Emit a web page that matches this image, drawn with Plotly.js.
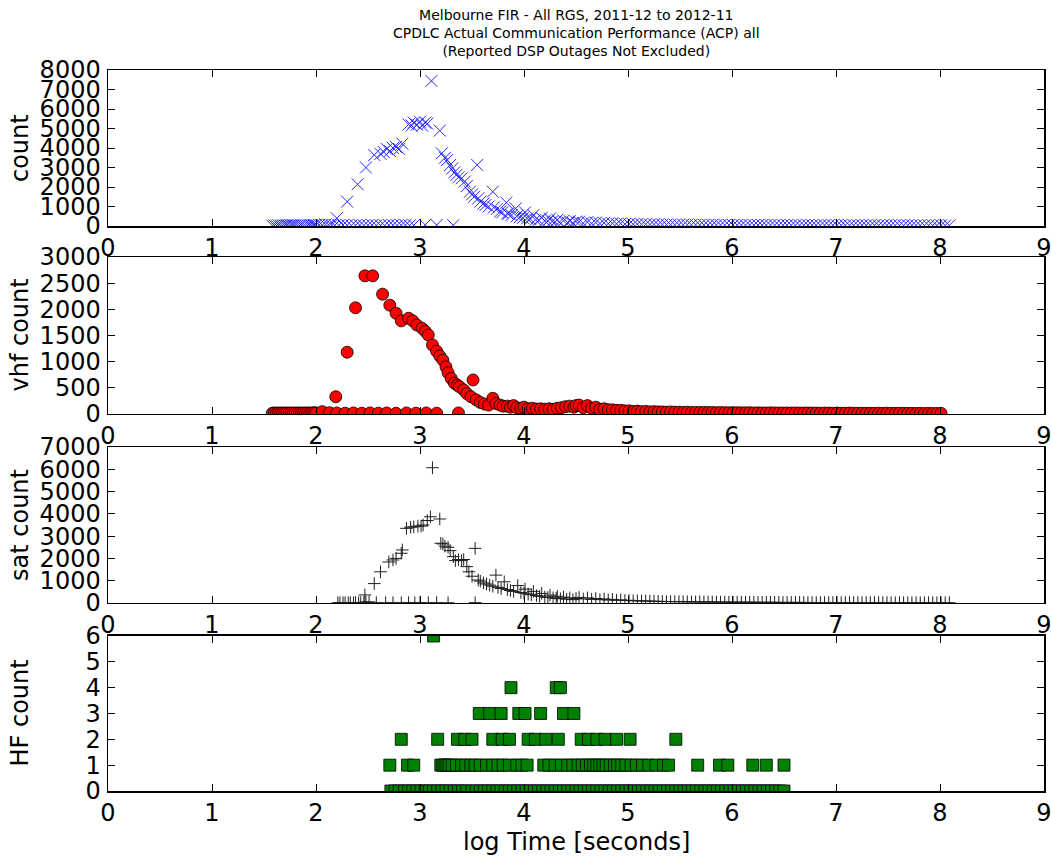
<!DOCTYPE html>
<html>
<head>
<meta charset="utf-8">
<script src="https://cdn.plot.ly/plotly-3.0.1.min.js"></script>
<style>html,body{margin:0;padding:0;background:#fff;}#chart{width:1051px;height:856px;}</style>
</head>
<body>
<div id="chart"></div>
<script>
// ---------- DATA (x = log time [s], y = count) ----------
// Panel 1: all
const allPeakLogT = [2.20,2.30,2.40,2.48,2.56,2.62,2.65,2.68,2.71,2.74,2.77,2.80,2.83,2.89,2.92,2.94,2.97,3.00,3.02,3.05,3.07,3.11,3.19,3.21,3.24,3.26,3.29,3.31,3.33,3.35,3.37,3.40,3.43,3.45,3.48,3.50,3.52,3.55,3.56,3.58,3.61,3.63,3.66,3.70,3.71,3.74,3.77,3.79,3.83,3.84,3.85,3.88,3.92,3.93,3.96,3.99,4.01,4.03,4.06,4.09,4.11,4.14,4.17,4.20,4.23,4.25,4.27,4.30,4.32,4.34,4.38,4.42,4.44,4.47,4.50];
const allPeakCount = [400,1250,2140,3000,3640,3700,3800,3950,3850,4000,4050,3950,4220,5210,5150,5300,5200,5350,5150,5300,5250,7440,4890,3730,3500,3380,3130,2950,2750,2620,2500,2450,2280,2050,1760,1620,1500,3130,1420,1250,1150,1080,1000,1760,950,880,740,700,1200,650,620,560,900,500,460,420,700,390,360,560,320,300,420,270,250,380,230,210,320,200,270,180,250,160,230];
const allLowLogT = [1.58,1.60,1.62,1.64,1.66,1.68,1.70,1.72,1.74,1.76,1.78,1.80,1.82,1.84,1.86,1.88,1.90,1.92,1.94,1.96,1.98,2.00,2.03,2.06,2.09,2.12,2.15,2.18,2.22,2.26,2.30,2.34,2.38,2.42,2.46,2.50,2.54,2.58,2.62,2.66,2.70,2.74,2.78,2.82,2.86,2.90,2.94,3.05,3.16,3.32];
const allLowCount = [20,30,20,40,30,20,30,40,20,30,40,30,20,30,40,30,20,30,40,30,50,40,60,50,80,60,50,40,30,50,40,30,40,50,30,40,50,30,40,30,50,40,30,40,50,30,40,60,50,40];

// Shared dense tail positions (log time)
const tailLogT = [4.53,4.57,4.61,4.65,4.69,4.73,4.77,4.81,4.85,4.89,4.93,4.97,5.01,5.05,5.09,5.13,5.17,5.21,5.25,5.29,5.33,5.37,5.41,5.45,5.49,5.53,5.57,5.61,5.65,5.69,5.73,5.77,5.81,5.85,5.89,5.93,5.97,6.01,6.05,6.09,6.13,6.17,6.21,6.25,6.29,6.33,6.37,6.41,6.45,6.49,6.53,6.57,6.61,6.65,6.69,6.73,6.77,6.81,6.85,6.89,6.93,6.97,7.01,7.05,7.09,7.13,7.17,7.21,7.25,7.29,7.33,7.37,7.41,7.45,7.49,7.53,7.57,7.61,7.65,7.69,7.73,7.77,7.81,7.85,7.89,7.93,7.97,8.01,8.05,8.09];
const allTailCount = [220,150,200,140,180,130,160,120,140,110,130,100,110,90,100,85,90,80,85,75,80,70,75,70,70,65,70,60,65,60,60,55,60,55,55,50,55,50,50,50,45,50,45,50,45,45,50,45,45,40,45,40,45,40,40,45,40,40,40,45,40,40,35,40,40,35,40,35,40,35,35,40,35,35,35,40,35,35,30,35,35,30,35,30,35,30,30,35,30,30];

// Panel 2: vhf
const vhfPeakLogT = [2.19,2.30,2.38,2.47,2.545,2.64,2.71,2.77,2.82,2.89,2.93,2.97,3.02,3.05,3.08,3.12,3.16,3.19,3.22,3.25,3.27,3.30,3.33,3.36,3.38,3.42,3.45,3.49,3.51,3.54,3.58,3.62,3.66,3.70,3.73,3.77,3.80,3.84,3.87,3.90,3.93,3.97,4.00,4.04,4.08,4.12,4.16,4.20,4.24,4.28,4.32,4.36,4.40,4.44,4.48,4.50];
const vhfPeakCount = [330,1180,2030,2640,2640,2290,2080,1925,1780,1830,1780,1700,1640,1580,1510,1320,1200,1110,1030,900,790,680,590,550,520,460,390,330,650,270,220,190,170,300,200,170,150,150,130,160,120,110,130,100,110,95,100,90,100,90,110,120,140,150,130,160];
const vhfLowLogT = [1.58,1.60,1.62,1.64,1.66,1.68,1.70,1.72,1.74,1.76,1.78,1.80,1.82,1.84,1.86,1.88,1.90,1.92,1.94,1.96,1.98,2.00,2.06,2.13,2.20,2.28,2.36,2.44,2.52,2.60,2.68,2.77,2.87,2.96,3.06,3.16,3.37];
const vhfLowCount = [15,20,15,20,15,20,15,20,15,20,15,20,15,20,15,20,15,20,15,20,25,20,45,25,20,15,20,15,20,15,20,15,20,15,20,15,20];
const vhfTailCount = [170,120,160,110,130,90,100,80,80,70,70,60,60,50,55,45,50,40,45,40,40,35,40,35,35,30,35,30,30,30,30,28,30,25,28,25,25,25,25,22,22,25,20,22,20,20,22,20,20,18,20,18,20,18,18,20,18,18,15,18,18,15,18,15,15,18,15,15,15,15,15,12,15,12,15,12,12,15,12,12,12,10,12,10,12,10,10,12];

// Panel 3: sat
const satPeakLogT = [2.47,2.56,2.62,2.70,2.74,2.77,2.82,2.83,2.87,2.91,2.94,2.98,3.01,3.03,3.07,3.10,3.12,3.19,3.20,3.22,3.24,3.27,3.29,3.32,3.34,3.37,3.40,3.42,3.45,3.47,3.50,3.53,3.56,3.58,3.61,3.64,3.67,3.70,3.73,3.75,3.78,3.81,3.84,3.87,3.90,3.94,3.97,4.00,4.01,4.04,4.07,4.09,4.12,4.15,4.17,4.20,4.23,4.25,4.28,4.31,4.32,4.35,4.38,4.41,4.44,4.47,4.50];
const satPeakCount = [360,870,1400,1840,1930,2000,2230,2380,3350,3400,3420,3450,3450,3500,3700,3870,6070,3770,2680,2650,2550,2500,2350,2080,1900,1950,1900,1950,1630,1400,1200,2450,1030,980,900,850,800,750,1250,700,650,950,600,560,520,780,470,440,620,400,370,520,330,300,430,270,250,350,230,210,300,190,260,170,230,150,200];
const satLowLogT = [2.21,2.23,2.26,2.28,2.31,2.33,2.36,2.38,2.41,2.43,2.46,2.48,2.51,2.58,2.67,2.74,2.82,2.89,2.95,3.00,3.08,3.16,3.27,3.53];
const satLowCount = [10,15,10,15,10,15,10,20,15,20,30,40,50,15,10,15,10,15,10,15,10,15,10,15];
const satTailCount = [250,180,230,160,200,150,180,130,160,120,140,110,120,100,100,90,90,80,80,70,70,60,65,60,60,55,55,50,50,50,45,45,45,40,40,40,40,35,35,35,35,35,30,30,30,30,30,30,25,25,25,25,25,25,25,20,20,20,20,20,20,20,20,20,20,20,20,18,18,18,18,18,18,18,18,15,15,15,15,15,15,15,15,15,15,12,12,12,12,12];

// Panel 4: HF (rows of equal count)
const hfRowCounts = [0,1,2,3,4,6];
const hfRow0LogT = [2.72,2.76,2.80,2.85,2.89,2.93,2.97,3.01,3.05,3.09,3.13,3.17,3.21,3.25,3.29,3.33,3.37,3.41,3.45,3.50,3.54,3.58,3.62,3.66,3.70,3.74,3.78,3.82,3.86,3.90,3.94,3.98,4.02,4.06,4.10,4.14,4.18,4.22,4.26,4.30,4.34,4.38,4.42,4.46,4.50,4.54,4.58,4.62,4.66,4.70,4.74,4.78,4.82,4.86,4.90,4.94,4.98,5.02,5.06,5.10,5.14,5.18,5.22,5.26,5.30,5.34,5.38,5.42,5.46,5.50,5.54,5.58,5.62,5.66,5.70,5.74,5.78,5.82,5.86,5.90,5.94,5.98,6.02,6.06,6.10,6.14,6.18,6.22,6.26,6.30,6.34,6.38,6.42,6.46,6.50];
const hfRow1LogT = [2.71,2.88,2.94,3.20,3.22,3.24,3.26,3.28,3.31,3.35,3.40,3.44,3.49,3.53,3.58,3.64,3.70,3.75,3.80,3.86,3.93,3.98,4.03,4.19,4.24,4.30,4.36,4.42,4.47,4.52,4.56,4.60,4.64,4.67,4.70,4.73,4.76,4.79,4.83,4.87,4.90,4.94,4.98,5.03,5.08,5.14,5.20,5.27,5.34,5.39,5.67,5.88,5.96,6.20,6.33,6.50];
const hfRow2LogT = [2.82,3.17,3.36,3.43,3.50,3.70,3.79,3.86,4.04,4.11,4.21,4.33,4.55,4.62,4.70,4.78,4.89,5.02,5.46];
const hfRow3LogT = [3.57,3.67,3.78,3.95,4.01,4.16,4.38,4.48];
const hfRow4LogT = [3.875,4.31,4.35];
const hfRow6LogT = [3.13];

const xTickVals = [0,1,2,3,4,5,6,7,8,9];
const titleLines = ['Melbourne FIR - All RGS, 2011-12 to 2012-11','CPDLC Actual Communication Performance (ACP) all','(Reported DSP Outages Not Excluded)'];
const panelLabels = ['count','vhf count','sat count','HF count'];
const xLabel = 'log Time [seconds]';

// ---------- BUILD ----------
const FONT = 'DejaVu Sans, Bitstream Vera Sans, sans-serif';
const allX = allLowLogT.concat(allPeakLogT, tailLogT.slice(0, allTailCount.length));
const allY = allLowCount.concat(allPeakCount, allTailCount);
const vhfX = vhfLowLogT.concat(vhfPeakLogT, tailLogT.slice(0, vhfTailCount.length));
const vhfY = vhfLowCount.concat(vhfPeakCount, vhfTailCount);
const satX = satLowLogT.concat(satPeakLogT, tailLogT.slice(0, satTailCount.length));
const satY = satLowCount.concat(satPeakCount, satTailCount);
const hfRows = [hfRow0LogT, hfRow1LogT, hfRow2LogT, hfRow3LogT, hfRow4LogT, hfRow6LogT];
let hfX = [], hfY = [];
hfRows.forEach((row, i) => { row.forEach(v => { hfX.push(v); hfY.push(hfRowCounts[i]); }); });

const traces = [
  {type:'scatter', mode:'markers', x:allX, y:allY, xaxis:'x', yaxis:'y', hoverinfo:'skip',
   marker:{symbol:'x-thin', size:12, color:'blue', line:{color:'rgb(40,40,255)', width:1}}},
  {type:'scatter', mode:'markers', x:vhfX, y:vhfY, xaxis:'x2', yaxis:'y2', hoverinfo:'skip',
   marker:{symbol:'circle', size:12, color:'#ff0000', line:{color:'black', width:0.8}}},
  {type:'scatter', mode:'markers', x:satX, y:satY, xaxis:'x3', yaxis:'y3', hoverinfo:'skip',
   marker:{symbol:'cross-thin', size:9, color:'black', line:{color:'rgb(30,30,30)', width:1}}},
  {type:'scatter', mode:'markers', x:hfX, y:hfY, xaxis:'x4', yaxis:'y4', hoverinfo:'skip',
   marker:{symbol:'square', size:12, color:'#008000', line:{color:'black', width:0.8}}}
];

const tickFont = {family:FONT, size:24, color:'black'};
function xAx(anchor){
  return {anchor:anchor, domain:[0,1], range:[-0.00001,9.00001], tickmode:'array', tickvals:xTickVals, ticktext:xTickVals.map(String),
    ticks:'inside', ticklen:7, tickwidth:1, tickcolor:'black', mirror:'ticks', showline:true, linecolor:'black', linewidth:1.5,
    showgrid:false, zeroline:false, tickfont:tickFont, fixedrange:true, ticklabeloverflow:'allow'};
}
function yAx(anchor, domain, max, dtick){
  return {anchor:anchor, domain:domain, range:[0,max], dtick:dtick, tick0:0,
    ticks:'inside', ticklen:7, tickwidth:1, tickcolor:'black', mirror:'ticks', showline:true, linecolor:'black', linewidth:1.5,
    showgrid:false, zeroline:false, tickfont:tickFont, fixedrange:true, ticklabelstandoff:1, ticklabeloverflow:'allow'};
}
const domains = [[0.7836,1],[0.5229,0.7406],[0.2608,0.4771],[0,0.2150]];
const plotW = 936;
const annotations = panelLabels.map((t,i)=>({
  text:t, xref:'paper', yref:'paper', x:(20-108)/plotW, y:(domains[i][0]+domains[i][1])/2,
  xanchor:'center', yanchor:'middle', textangle:-90, showarrow:false, font:{family:FONT, size:24, color:'black'}
}));
annotations.push({text:xLabel, xref:'paper', yref:'paper', x:0.5, y:(791-842)/721, xanchor:'center', yanchor:'middle',
  showarrow:false, font:{family:FONT, size:24, color:'black'}});
annotations.push({text:titleLines.join('<br>'), xref:'paper', yref:'paper', x:0.5, y:1+(70-61)/721, xanchor:'center', yanchor:'bottom',
  align:'center', showarrow:false, font:{family:FONT, size:14, color:'black'}});

const layout = {
  width:1051, height:856, margin:{l:108, r:7, t:70, b:65}, paper_bgcolor:'white', plot_bgcolor:'white', showlegend:false,
  xaxis:xAx('y'), xaxis2:xAx('y2'), xaxis3:xAx('y3'), xaxis4:xAx('y4'),
  yaxis:yAx('x', domains[0], 8000, 1000),
  yaxis2:yAx('x2', domains[1], 3000, 500),
  yaxis3:yAx('x3', domains[2], 7000, 1000),
  yaxis4:yAx('x4', domains[3], 6, 1),
  annotations:annotations
};
Plotly.newPlot('chart', traces, layout, {displayModeBar:false, staticPlot:true});
</script>
</body>
</html>
